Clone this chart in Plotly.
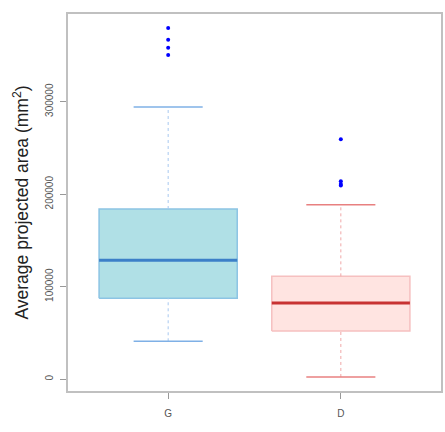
import plotly.graph_objects as go

categories = ["G", "D"]
lower_whisker = [41000, 2400]
q1 = [87500, 52100]
median = [128500, 82400]
q3 = [184000, 111200]
upper_whisker = [294300, 188700]
outliers = [[379600, 367000, 358400, 350500], [259400, 214000, 211000, 209500]]

fill_colors = ["#b0e0e6", "#ffe4e1"]
border_colors = ["#8cc4e4", "#f6c0c0"]
median_colors = ["#3c80c8", "#c83232"]
whisker_colors = ["#7fb0e6", "#e88080"]
dash_colors = ["#a8c8f0", "#f0a8a8"]

fig = go.Figure()
bw = 0.4
cw = 0.2
for i, cat in enumerate(categories):
    x = i + 1
    fig.add_trace(go.Scatter(
        x=[x - bw, x + bw, x + bw, x - bw, x - bw],
        y=[q1[i], q1[i], q3[i], q3[i], q1[i]],
        fill="toself", fillcolor=fill_colors[i], mode="lines",
        line=dict(color=border_colors[i], width=1.5), hoverinfo="skip"))
    fig.add_trace(go.Scatter(x=[x, x], y=[q3[i], upper_whisker[i]], mode="lines",
                             line=dict(color=dash_colors[i], width=1, dash="3px,3px")))
    fig.add_trace(go.Scatter(x=[x, x], y=[lower_whisker[i], q1[i]], mode="lines",
                             line=dict(color=dash_colors[i], width=1, dash="3px,3px")))
    for v in (upper_whisker[i], lower_whisker[i]):
        fig.add_trace(go.Scatter(x=[x - cw, x + cw], y=[v, v], mode="lines",
                                 line=dict(color=whisker_colors[i], width=1.5)))
    fig.add_trace(go.Scatter(x=[x - bw, x + bw], y=[median[i], median[i]], mode="lines",
                             line=dict(color=median_colors[i], width=3)))
    fig.add_trace(go.Scatter(x=[x] * len(outliers[i]), y=outliers[i], mode="markers",
                             marker=dict(color="#0000ff", size=4)))

fig.update_layout(
    width=445, height=432,
    margin=dict(l=68, r=2, t=14, b=41),
    paper_bgcolor="white", plot_bgcolor="white",
    showlegend=False,
    font=dict(family="Liberation Sans, Arial, sans-serif", color="#444"),
    xaxis=dict(range=[0.42, 2.58], tickvals=[1, 2], ticktext=categories,
               showgrid=False, zeroline=False, showline=True, mirror=True,
               linecolor="#c0c0c0", linewidth=2, ticks="outside", ticklen=6,
               tickcolor="#999999", tickfont=dict(size=10, color="#555"),
               ticklabelstandoff=6),
    yaxis=dict(range=[-12760, 394800], tickvals=[0, 100000, 200000, 300000],
               ticktext=["0", "100000", "200000", "300000"], tickangle=-90,
               showgrid=False, zeroline=False, showline=True, mirror=True,
               linecolor="#c0c0c0", linewidth=2, ticks="outside", ticklen=6,
               tickcolor="#999999", tickfont=dict(size=10, color="#555"),
               ticklabelstandoff=3,
               title=dict(text="Average projected area (mm<sup>2</sup>)",
                          font=dict(size=17.5, color="#222"), standoff=11)),
)

fig.write_html("out.html")
